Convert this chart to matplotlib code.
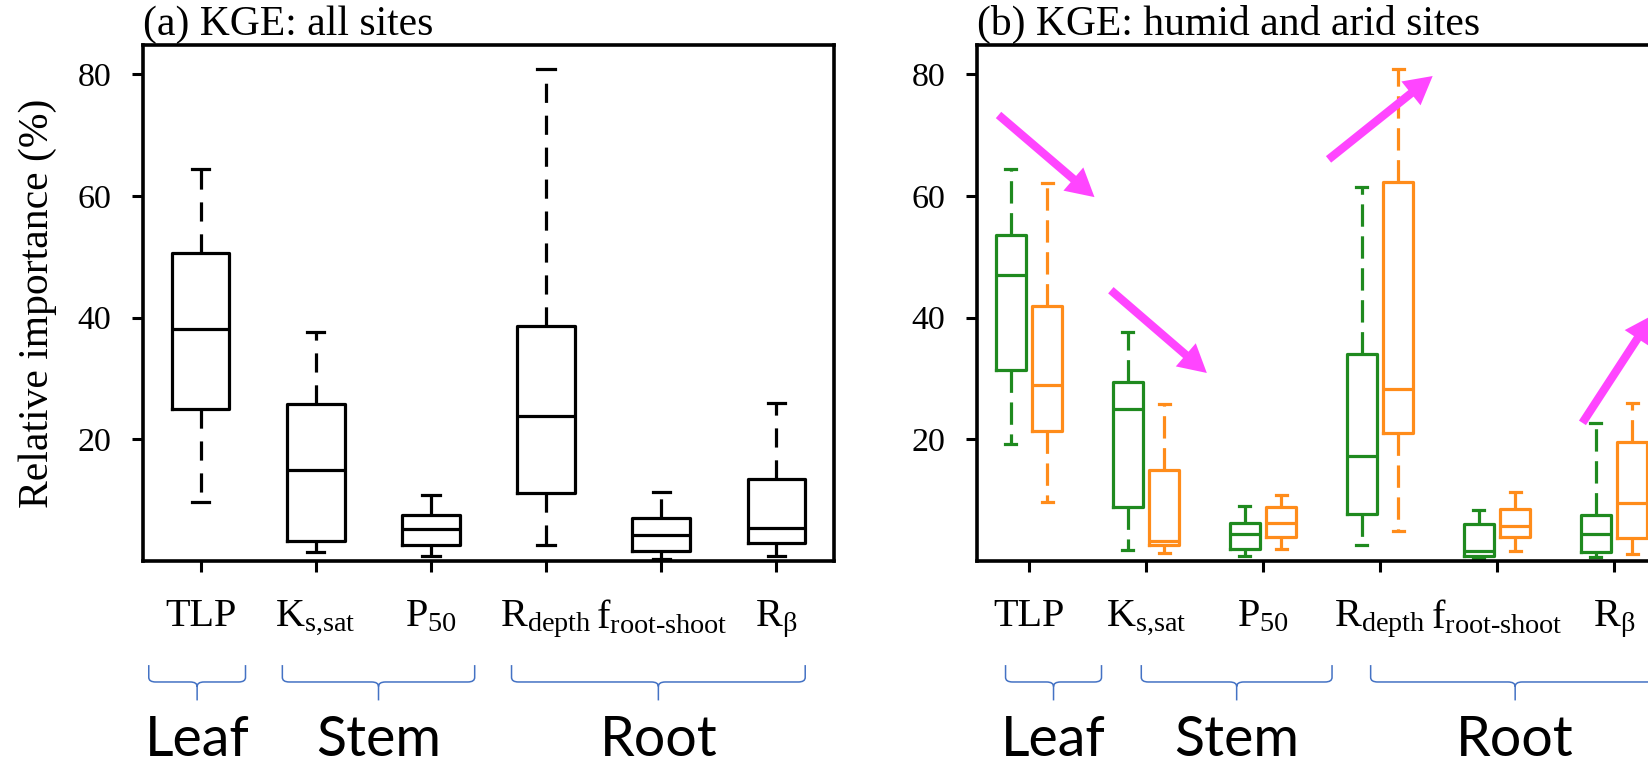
import matplotlib
matplotlib.use('Agg')
import matplotlib.pyplot as plt
import matplotlib.transforms as mtransforms
from matplotlib.path import Path
from matplotlib.patches import PathPatch

plt.rcParams['font.family'] = 'Liberation Serif'
plt.rcParams['mathtext.fontset'] = 'custom'
plt.rcParams['mathtext.rm'] = 'Liberation Serif'
plt.rcParams['mathtext.it'] = 'Liberation Serif:italic'
plt.rcParams['mathtext.default'] = 'rm'

params = ['TLP', r'$\mathrm{K}_{\text{s,sat}}$', r'$\mathrm{P}_{\mathrm{50}}$',
          r'$\mathrm{R}_{\mathrm{depth}}$', r'$\mathrm{f}_{\text{root-shoot}}$', r'$\mathrm{R}_{\mathrm{β}}$']

# (a) all sites: whisker low, q1, median, q3, whisker high
all_lo = [9.7, 1.5, 0.9, 2.7, 0.4, 0.8]
all_q1 = [25.0, 3.3, 2.7, 11.2, 1.6, 2.9]
all_med = [38.1, 15.0, 5.2, 23.8, 4.3, 5.4]
all_q3 = [50.6, 25.8, 7.6, 38.6, 7.0, 13.5]
all_hi = [64.4, 37.6, 10.9, 80.8, 11.4, 26.0]

# (b) humid sites (green)
hum_lo = [19.3, 1.8, 0.9, 2.6, 0.5, 0.7]
hum_q1 = [31.4, 8.8, 1.9, 7.7, 0.9, 1.4]
hum_med = [47.0, 25.0, 4.4, 17.3, 1.7, 4.4]
hum_q3 = [53.5, 29.4, 6.2, 34.0, 6.0, 7.6]
hum_hi = [64.4, 37.7, 9.1, 61.5, 8.3, 22.6]

# (b) arid sites (orange)
ari_lo = [9.7, 1.3, 2.0, 5.0, 1.6, 1.2]
ari_q1 = [21.3, 2.7, 4.0, 21.1, 4.0, 3.7]
ari_med = [28.9, 3.3, 6.3, 28.2, 5.8, 9.5]
ari_q3 = [41.9, 14.9, 8.8, 62.3, 8.5, 19.6]
ari_hi = [62.2, 25.8, 10.9, 80.9, 11.4, 26.0]

groups = ['Leaf', 'Stem', 'Root']
braces_a = [(0.55, 1.39), (1.71, 3.38), (3.70, 6.25)]
braces_b = [(0.80, 1.62), (1.96, 3.59), (3.92, 6.39)]

# magenta arrows in (b): start -> end
arrow_start = [(0.74, 73.3), (1.70, 44.5), (3.56, 66.0), (5.73, 22.7)]
arrow_end = [(1.56, 59.8), (2.52, 30.9), (4.45, 79.7), (6.33, 40.4)]

GREEN = '#1f8a1f'
ORANGE = '#ff8c1a'
MAGENTA = '#ff45ff'
BLUE = '#4472c4'


def make_stats(lo, q1, med, q3, hi):
    return [dict(whislo=a, q1=b, med=c, q3=d, whishi=e, fliers=[])
            for a, b, c, d, e in zip(lo, q1, med, q3, hi)]


def draw_boxes(ax, st, pos, width, color, dash, capw):
    lw = 2.3
    ax.bxp(st, positions=pos, widths=width, capwidths=capw, showfliers=False,
           manage_ticks=False,
           boxprops=dict(color=color, linewidth=lw),
           whiskerprops=dict(color=color, linewidth=lw, linestyle=(0, dash)),
           capprops=dict(color=color, linewidth=lw),
           medianprops=dict(color=color, linewidth=lw))


def style_axes(ax, title):
    ax.set_ylim(0, 84.8)
    ax.set_yticks([20, 40, 60, 80])
    ax.set_xticks(range(1, 7), params)
    ax.tick_params(axis='both', length=8, width=2.2, direction='out')
    ax.tick_params(axis='x', labelsize=29, pad=19)
    ax.tick_params(axis='y', labelsize=24.5, pad=15)
    for sp in ax.spines.values():
        sp.set_linewidth(2.6)
    ax.set_title(title, loc='left', fontsize=30, pad=7)


def draw_braces(fig, ax, spans):
    tr = mtransforms.blended_transform_factory(ax.transData, fig.transFigure)
    top, mid, tip, e, dx = 0.134, 0.112, 0.088, 0.006, 0.06
    for name, (x0, x1) in zip(groups, spans):
        xc = (x0 + x1) / 2
        verts = [(x0, top), (x0, mid + e), (x0, mid), (x0 + dx, mid),
                 (xc - dx, mid), (xc, mid), (xc, mid - e), (xc, tip),
                 (x1, top), (x1, mid + e), (x1, mid), (x1 - dx, mid),
                 (xc + dx, mid), (xc, mid), (xc, mid - e)]
        codes = [Path.MOVETO, Path.LINETO, Path.CURVE3, Path.CURVE3,
                 Path.LINETO, Path.CURVE3, Path.CURVE3, Path.LINETO,
                 Path.MOVETO, Path.LINETO, Path.CURVE3, Path.CURVE3,
                 Path.LINETO, Path.CURVE3, Path.CURVE3]
        patch = PathPatch(Path(verts, codes), transform=tr, fill=False,
                          edgecolor=BLUE, linewidth=1.1, clip_on=False)
        fig.add_artist(patch)
        fig.text(xc, 0.002, name, transform=tr, ha='center', va='bottom',
                 fontsize=40, family='Lato')


fig = plt.figure(figsize=(16.48, 7.68), dpi=100)
ax1 = fig.add_axes([143 / 1648, 1 - 561 / 768, 691 / 1648, 516 / 768])
ax2 = fig.add_axes([977 / 1648, 1 - 561 / 768, 689 / 1648, 516 / 768])

# (a)
draw_boxes(ax1, make_stats(all_lo, all_q1, all_med, all_q3, all_hi),
           [1, 2, 3, 4, 5, 6], 0.5, 'black', (6, 4), 0.15)
ax1.set_xlim(0.5, 6.5)
style_axes(ax1, '(a) KGE: all sites')
ax1.set_ylabel('Relative importance (%)', fontsize=30, va='center')
ax1.yaxis.set_label_coords(-0.153, 0.5)

# (b)
xs = [1, 2, 3, 4, 5, 6]
draw_boxes(ax2, make_stats(hum_lo, hum_q1, hum_med, hum_q3, hum_hi),
           [x - 0.155 for x in xs], 0.26, GREEN, (7, 3), 0.095)
draw_boxes(ax2, make_stats(ari_lo, ari_q1, ari_med, ari_q3, ari_hi),
           [x + 0.155 for x in xs], 0.26, ORANGE, (7, 3), 0.095)
ax2.set_xlim(0.556, 6.444)
style_axes(ax2, '(b) KGE: humid and arid sites')

for s, e in zip(arrow_start, arrow_end):
    ax2.annotate('', xy=e, xytext=s,
                 arrowprops=dict(arrowstyle='simple,head_length=1.0,head_width=1.1,tail_width=0.3',
                                 mutation_scale=20, color=MAGENTA, shrinkA=0, shrinkB=0,
                                 linewidth=0))

draw_braces(fig, ax1, braces_a)
draw_braces(fig, ax2, braces_b)

fig.savefig('out.png', dpi=100)
